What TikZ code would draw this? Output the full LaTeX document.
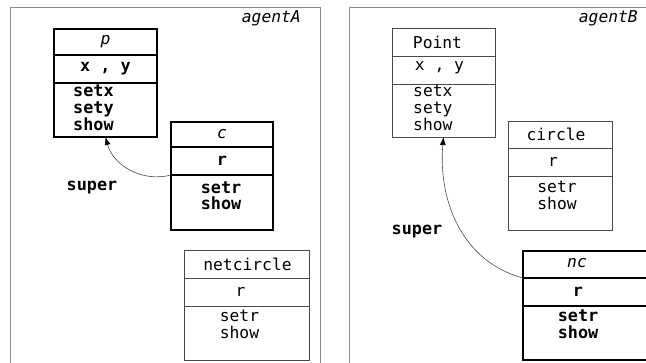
\documentclass[tikz,border=0pt]{standalone}
\usepackage{fontspec}
\setmonofont{DejaVu Sans Mono}
\usetikzlibrary{calc,arrows.meta}
\definecolor{framegray}{HTML}{8A8A8A}
\definecolor{thinline}{HTML}{4A4A4A}
\tikzset{
  mono/.style={font=\ttfamily\fontsize{16.3}{17}\selectfont},
  monob/.style={font=\ttfamily\bfseries\fontsize{16.8}{17}\selectfont},
  monoi/.style={font=\ttfamily\itshape\fontsize{16.3}{17}\selectfont},
  cell/.style={anchor=north west, inner sep=0pt, outer sep=0pt},
  thickcell/.style={cell, draw=black, line width=1.7pt},
  thincell/.style={cell, draw=thinline, line width=0.8pt},
  meth/.style={anchor=north, inner sep=0pt, align=center},
  methl/.style={anchor=north west, inner sep=0pt, align=left},
  frame/.style={draw=framegray, line width=1pt},
  superarrow/.style={draw=thinline, line width=0.6pt,
    -{Latex[length=8pt,width=6pt,color=black]}},
}
\begin{document}
\begin{tikzpicture}[x=1pt,y=-1pt]
\useasboundingbox (0,0) rectangle (646,362);
\clip (0,0) rectangle (646,362);

% agent frames
\draw[frame] (10,370) -- (10,7) -- (320,7) -- (320,370);
\draw[frame] (349,370) -- (349,7) -- (660,7);
\node[monoi, anchor=east, inner sep=0pt] (agentA) at (301,18) {agentA};
\node[monoi, anchor=east, inner sep=0pt] (agentB) at (638,18) {agentB};

% ---- agentA ----
% object p
\node[thickcell, minimum width=103, minimum height=26] (p1) at (54,29) {};
\node[thickcell, minimum width=103, minimum height=28] (p2) at (54,55) {};
\node[thickcell, minimum width=103, minimum height=54] (p3) at (54,83) {};
\node[monoi] at (p1.center) {p};
\node[monob] at (p2.center) {x , y};
\node[monob, methl] (pm) at (73,85) {setx\\sety\\show};

% object c
\node[thickcell, minimum width=102, minimum height=25] (c1) at (171,122) {};
\node[thickcell, minimum width=102, minimum height=28] (c2) at (171,147) {};
\node[thickcell, minimum width=102, minimum height=55] (c3) at (171,175) {};
\node[monoi] at (c1.center) {c};
\node[monob] at (c2.center) {r};
\node[monob, meth] (cm) at ($(c3.north)+(-1,6)$) {setr\\show};

% class netcircle
\node[thincell, minimum width=125, minimum height=28] (n1) at (184,250) {};
\node[thincell, minimum width=125, minimum height=28] (n2) at (184,278) {};
\node[thincell, minimum width=125, minimum height=54] (n3) at (184,306) {};
\node[mono] at ($(n1.center)+(1,0)$) {netcircle};
\node[mono] at ($(n2.center)+(-6,0)$) {r};
\node[mono, meth] (nm) at ($(n3.north)+(-7,4)$) {setr\\show};

\path[superarrow] (c3.north west) to[out=195, in=-75] (p3.south);
\node[monob, inner sep=0pt] (superA) at (92,188) {super};

% ---- agentB ----
% class Point
\node[thincell, minimum width=103, minimum height=28] (q1) at (392,28) {};
\node[thincell, minimum width=103, minimum height=28] (q2) at (392,56) {};
\node[thincell, minimum width=103, minimum height=53] (q3) at (392,84) {};
\node[mono] at ($(q1.center)+(-6,0)$) {Point};
\node[mono] at ($(q2.center)+(-4,-2)$) {x , y};
\node[mono, methl] (qm) at (413,85) {setx\\sety\\show};

% class circle
\node[thincell, minimum width=104, minimum height=27] (k1) at (508,121) {};
\node[thincell, minimum width=104, minimum height=28] (k2) at (508,148) {};
\node[thincell, minimum width=104, minimum height=54] (k3) at (508,176) {};
\node[mono] at ($(k1.center)+(-4,0)$) {circle};
\node[mono] at ($(k2.center)+(-7,0)$) {r};
\node[mono, meth] (km) at ($(k3.north)+(-3,5)$) {setr\\show};

% object nc
\node[thickcell, minimum width=140, minimum height=27] (m1) at (523,251) {};
\node[thickcell, minimum width=140, minimum height=28] (m2) at (523,278) {};
\node[thickcell, minimum width=140, minimum height=54] (m3) at (523,306) {};
\node[monoi] at (577,263) {nc};
\node[monob] at (578,292) {r};
\node[monob, meth] (mm) at (578,309) {setr\\show};

\path[superarrow] (m2.north west) to[out=165, in=-95] (q3.south);
\node[monob, inner sep=0pt] (superB) at (417,232) {super};
\end{tikzpicture}
\end{document}
